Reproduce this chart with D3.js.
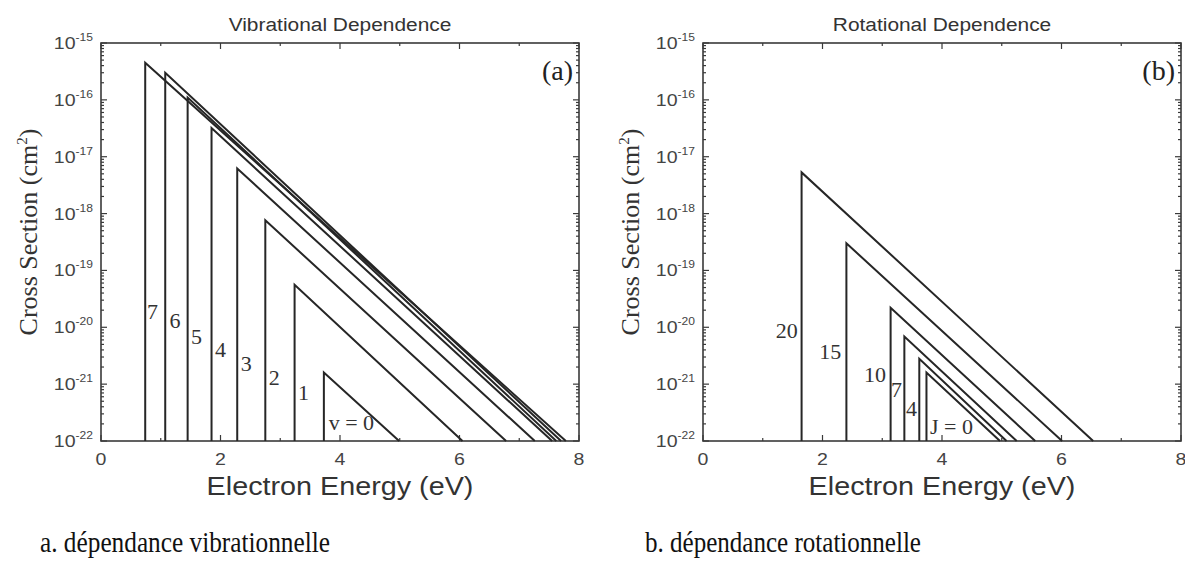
<!DOCTYPE html>
<html><head><meta charset="utf-8">
<script src="https://cdn.jsdelivr.net/npm/d3@7"></script>
<style>
body{margin:0;background:#fff;}
svg{display:block;}
</style>
</head><body>
<svg id="chart" width="1185" height="565"></svg>
<script>
// ---- data ----
const xTicks = [0, 2, 4, 6, 8];
const yExponents = [-15, -16, -17, -18, -19, -20, -21, -22];

const vibLabels    = ["v = 0", "1", "2", "3", "4", "5", "6", "7"];
const vibThreshold = [3.73, 3.24, 2.75, 2.28, 1.85, 1.45, 1.075, 0.74];
const vibPeak      = [1.6e-21, 5.6e-20, 7.6e-19, 6.2e-18, 3.2e-17, 1.1e-16, 3.0e-16, 4.5e-16];
const vibEnd       = [4.99, 6.05, 6.78, 7.26, 7.55, 7.62, 7.70, 7.78];
const vibLabelX    = [4.19, 3.39, 2.90, 2.43, 2.00, 1.60, 1.24, 0.86];
const vibLabelY    = [2.1e-22, 7.1e-22, 1.29e-21, 2.34e-21, 4.1e-21, 6.9e-21, 1.29e-20, 1.9e-20];

const rotLabels    = ["J = 0", "4", "7", "10", "15", "20"];
const rotThreshold = [3.74, 3.62, 3.37, 3.14, 2.40, 1.65];
const rotPeak      = [1.6e-21, 2.8e-21, 6.9e-21, 2.2e-20, 3.0e-19, 5.3e-18];
const rotEnd       = [4.97, 5.08, 5.25, 5.56, 6.01, 6.53];
const rotLabelX    = [4.16, 3.49, 3.24, 2.88, 2.13, 1.40];
const rotLabelY    = [1.8e-22, 3.8e-22, 8.1e-22, 1.45e-21, 3.7e-21, 8.9e-21];

const titles   = ["Vibrational Dependence", "Rotational Dependence"];
const tags     = ["(a)", "(b)"];
const captions = ["a. dépendance vibrationnelle", "b. dépendance rotationnelle"];
const xLabel = "Electron Energy (eV)";
const yLabel = "Cross Section (cm";

// ---- layout ----
const svg = d3.select("#chart");
const plotTop = 43, plotBottom = 441, pw = 478;
const panelsX = [101, 703];
const captionX = [40, 645];
const captionW = [290, 276];
const stretch = 1.15;   // the reference figure is slightly stretched horizontally

const panels = [
  {labels: vibLabels, thr: vibThreshold, peak: vibPeak, end: vibEnd, lx: vibLabelX, ly: vibLabelY},
  {labels: rotLabels, thr: rotThreshold, peak: rotPeak, end: rotEnd, lx: rotLabelX, ly: rotLabelY}
];

const axisColor = "#3a3a3a";
const lineColor = "#262626";
const serif = "Liberation Serif, Times New Roman, serif";
const sans = "Liberation Sans, Arial, sans-serif";

function sText(parent, px, py, size, anchor, sx) {
  return parent.append("text")
    .attr("transform", `translate(${px},${py}) scale(${sx || stretch},1)`)
    .attr("text-anchor", anchor).attr("font-family", sans).attr("font-size", size);
}

panels.forEach((p, i) => {
  const x0 = panelsX[i];
  const x = d3.scaleLinear().domain([0, 8]).range([x0, x0 + pw]);
  const y = d3.scaleLog().domain([1e-22, 1e-15]).range([plotBottom, plotTop]);
  const g = svg.append("g");

  const minorY = [];
  for (let e = -22; e < -15; e++) for (let m = 2; m <= 9; m++) minorY.push(m * Math.pow(10, e));
  const majorY = yExponents.map(e => Math.pow(10, e));
  const xMinor = [1, 3, 5, 7];

  const tickG = g.append("g").attr("stroke", axisColor).attr("stroke-width", 1.2);
  minorY.forEach(v => {
    tickG.append("line").attr("x1", x(0)).attr("x2", x(0) + 3).attr("y1", y(v)).attr("y2", y(v));
    tickG.append("line").attr("x1", x(8)).attr("x2", x(8) - 3).attr("y1", y(v)).attr("y2", y(v));
  });
  majorY.forEach(v => {
    tickG.append("line").attr("x1", x(0)).attr("x2", x(0) + 6).attr("y1", y(v)).attr("y2", y(v));
    tickG.append("line").attr("x1", x(8)).attr("x2", x(8) - 6).attr("y1", y(v)).attr("y2", y(v));
  });
  xTicks.forEach(v => {
    tickG.append("line").attr("x1", x(v)).attr("x2", x(v)).attr("y1", plotBottom).attr("y2", plotBottom - 6);
    tickG.append("line").attr("x1", x(v)).attr("x2", x(v)).attr("y1", plotTop).attr("y2", plotTop + 6);
  });
  xMinor.forEach(v => {
    tickG.append("line").attr("x1", x(v)).attr("x2", x(v)).attr("y1", plotBottom).attr("y2", plotBottom - 3);
    tickG.append("line").attr("x1", x(v)).attr("x2", x(v)).attr("y1", plotTop).attr("y2", plotTop + 3);
  });

  g.append("rect").attr("x", x(0)).attr("y", plotTop).attr("width", x(8) - x(0)).attr("height", plotBottom - plotTop)
    .attr("fill", "none").attr("stroke", axisColor).attr("stroke-width", 1.6);

  const line = d3.line().x(d => x(d[0])).y(d => y(d[1]));
  p.thr.forEach((t, k) => {
    const pts = [[t, 1e-22], [t, p.peak[k]], [p.end[k], 1e-22]];
    g.append("path").attr("d", line(pts)).attr("fill", "none")
      .attr("stroke", lineColor).attr("stroke-width", 2).attr("stroke-linejoin", "miter");
  });

  p.labels.forEach((lab, k) => {
    g.append("text").attr("x", x(p.lx[k])).attr("y", y(p.ly[k]))
      .attr("text-anchor", "middle").attr("dominant-baseline", "central")
      .attr("font-family", serif).attr("font-size", 22)
      .attr("fill", "#333").text(lab);
  });

  xTicks.forEach(v => {
    sText(g, x(v), 465, 17, "middle").attr("fill", "#444").text(v);
  });

  yExponents.forEach(e => {
    const t = sText(g, x(0) - 8, y(Math.pow(10, e)) + 6, 17, "end").attr("fill", "#444");
    t.append("tspan").text("10");
    t.append("tspan").attr("dy", -8).attr("font-size", 10.5).text(String(e));
  });

  sText(g, x(4), 31, 19, "middle", 1.1).attr("fill", "#333").text(titles[i]);

  g.append("text").attr("x", x(7.9)).attr("y", 80).attr("text-anchor", "end")
    .attr("font-family", serif).attr("font-size", 28)
    .attr("fill", "#222").text(tags[i]);

  sText(g, x(4), 495, 25, "middle").attr("fill", "#333").text(xLabel);

  const yl = g.append("text").attr("transform", `translate(${x0 - 64},${232}) rotate(-90)`)
    .attr("text-anchor", "middle")
    .attr("font-family", serif).attr("font-size", 26)
    .attr("fill", "#333");
  yl.append("tspan").text(yLabel);
  yl.append("tspan").attr("dy", -10).attr("font-size", 15).text("2");
  yl.append("tspan").attr("dy", 10).text(")");

  svg.append("text").attr("x", captionX[i]).attr("y", 552)
    .attr("font-family", serif).attr("font-size", 30)
    .attr("textLength", captionW[i]).attr("lengthAdjust", "spacingAndGlyphs")
    .attr("fill", "#111").text(captions[i]);
});
</script>
</body></html>
